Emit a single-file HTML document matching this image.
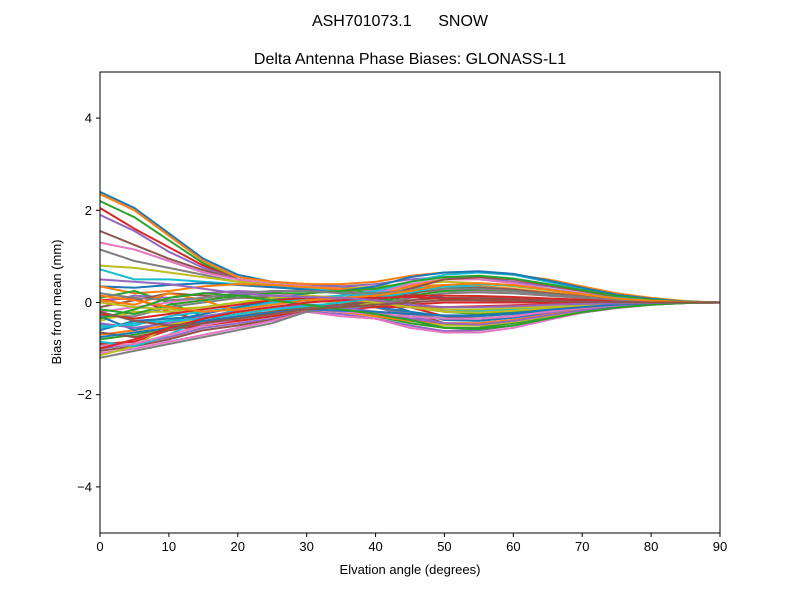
<!DOCTYPE html>
<html><head><meta charset="utf-8"><style>
body{margin:0;background:#fff;}
svg{display:block;font-family:"Liberation Sans","DejaVu Sans",sans-serif;}
text{white-space:pre;}
</style></head><body>
<svg id="chart" width="800" height="600" xmlns="http://www.w3.org/2000/svg">
<rect width="800" height="600" fill="#fff"/>
<text x="400" y="26" font-size="16" text-anchor="middle" xml:space="preserve">ASH701073.1      SNOW</text>
<text x="410" y="64" font-size="16" text-anchor="middle">Delta Antenna Phase Biases: GLONASS-L1</text>
<g id="lines"></g>
<g id="axes"></g>
<text x="410" y="574" font-size="13" text-anchor="middle">Elvation angle (degrees)</text>
<text transform="translate(61,302) rotate(-90)" font-size="13" text-anchor="middle">Bias from mean (mm)</text>
</svg>
<script>
const elevations=[0,5,10,15,20,25,30,35,40,45,50,55,60,65,70,75,80,85,90];
const xTicks=[0,10,20,30,40,50,60,70,80,90];
const yTicks=[-4,-2,0,2,4];
const s1=[2.4,2.05,1.5,0.95,0.6,0.45,0.4,0.35,0.3,0.2,0.1,0.05,0.05,0.05,0.05,0.05,0.03,0.01,0];
const s2=[2.35,2.0,1.45,0.9,0.55,0.45,0.4,0.4,0.45,0.58,0.65,0.65,0.6,0.5,0.35,0.2,0.1,0.03,0];
const s3=[2.2,1.85,1.35,0.85,0.5,0.4,0.35,0.3,0.2,0,-0.2,-0.25,-0.2,-0.15,-0.1,-0.05,-0.03,-0.01,0];
const s4=[2.05,1.6,1.2,0.8,0.5,0.35,0.3,0.25,0.15,-0.1,-0.3,-0.35,-0.3,-0.2,-0.12,-0.07,-0.03,-0.01,0];
const s5=[1.9,1.55,1.1,0.75,0.5,0.4,0.35,0.35,0.4,0.5,0.55,0.55,0.45,0.35,0.25,0.15,0.07,0.02,0];
const s6=[1.55,1.25,0.95,0.7,0.5,0.38,0.3,0.2,0.05,-0.2,-0.45,-0.5,-0.45,-0.3,-0.18,-0.1,-0.04,-0.01,0];
const s7=[1.3,1.15,0.9,0.65,0.5,0.4,0.35,0.3,0.25,0.25,0.25,0.25,0.2,0.15,0.1,0.06,0.03,0.01,0];
const s8=[1.15,0.9,0.75,0.6,0.45,0.35,0.3,0.25,0.1,-0.1,-0.2,-0.2,-0.15,-0.1,-0.06,-0.03,-0.02,0,0];
const s9=[0.8,0.75,0.65,0.55,0.45,0.38,0.32,0.3,0.35,0.4,0.45,0.42,0.35,0.27,0.18,0.1,0.05,0.01,0];
const s10=[0.72,0.5,0.5,0.45,0.4,0.35,0.3,0.22,0.1,-0.05,-0.15,-0.18,-0.15,-0.1,-0.06,-0.03,-0.01,0,0];
const s11=[0.35,0.32,0.38,0.42,0.38,0.33,0.28,0.2,0.05,-0.2,-0.38,-0.4,-0.33,-0.22,-0.13,-0.07,-0.03,-0.01,0];
const s12=[0.35,0.2,0.25,0.35,0.4,0.38,0.33,0.3,0.3,0.35,0.38,0.36,0.3,0.22,0.14,0.08,0.04,0.01,0];
const s13=[0.1,0.25,0.0,-0.3,-0.4,-0.3,-0.2,-0.1,0.0,0.15,0.25,0.28,0.25,0.2,0.13,0.07,0.03,0.01,0];
const s14=[0.05,0.1,-0.2,-0.4,-0.35,-0.25,-0.15,-0.1,-0.1,-0.1,-0.1,-0.08,-0.06,-0.04,-0.02,-0.01,0,0,0];
const s15=[0,0.15,0.1,0.2,0.25,0.22,0.15,0.05,-0.1,-0.3,-0.45,-0.45,-0.38,-0.25,-0.15,-0.08,-0.03,-0.01,0];
const s16=[-0.1,0.05,0.2,0.15,0.1,0.1,0.05,0.0,0.0,0.05,0.1,0.1,0.08,0.05,0.03,0.02,0.01,0,0];
const s17=[-0.2,-0.1,0.0,0.1,0.2,0.2,0.15,0.1,0.2,0.4,0.5,0.5,0.42,0.3,0.2,0.1,0.05,0.01,0];
const s18=[-0.3,-0.3,-0.1,0.0,0.1,0.15,0.1,0.0,-0.1,-0.25,-0.35,-0.35,-0.3,-0.2,-0.12,-0.06,-0.03,-0.01,0];
const s19=[-0.4,-0.2,-0.2,-0.1,0.0,0.05,0.05,0.0,-0.05,-0.1,-0.15,-0.15,-0.12,-0.08,-0.05,-0.02,-0.01,0,0];
const s20=[-0.5,-0.5,-0.3,-0.2,-0.1,0.0,0.05,0.1,0.2,0.3,0.35,0.33,0.28,0.2,0.12,0.06,0.03,0.01,0];
const s21=[-0.6,-0.4,-0.35,-0.3,-0.2,-0.1,-0.05,-0.05,-0.1,-0.2,-0.3,-0.3,-0.25,-0.17,-0.1,-0.05,-0.02,0,0];
const s22=[-0.7,-0.6,-0.5,-0.4,-0.3,-0.2,-0.1,0.0,0.15,0.35,0.5,0.55,0.5,0.38,0.25,0.13,0.06,0.02,0];
const s23=[-0.8,-0.7,-0.55,-0.45,-0.35,-0.25,-0.15,-0.2,-0.3,-0.45,-0.55,-0.55,-0.45,-0.32,-0.2,-0.1,-0.04,-0.01,0];
const s24=[-0.9,-0.85,-0.6,-0.5,-0.4,-0.3,-0.2,-0.15,-0.1,-0.05,0.0,0.0,0.0,0.0,0,0,0,0,0];
const s25=[-1.0,-0.9,-0.75,-0.55,-0.45,-0.35,-0.2,-0.25,-0.35,-0.5,-0.62,-0.6,-0.5,-0.35,-0.22,-0.12,-0.05,-0.01,0];
const s26=[-1.05,-0.95,-0.8,-0.6,-0.5,-0.38,-0.2,-0.1,0.05,0.3,0.5,0.55,0.5,0.38,0.25,0.13,0.06,0.02,0];
const s27=[-1.1,-1.0,-0.85,-0.7,-0.55,-0.4,-0.2,-0.3,-0.35,-0.55,-0.65,-0.65,-0.55,-0.38,-0.22,-0.12,-0.05,-0.01,0];
const s28=[-1.2,-1.05,-0.9,-0.75,-0.6,-0.45,-0.2,-0.15,-0.05,0.1,0.2,0.22,0.2,0.15,0.1,0.05,0.02,0,0];
const s29=[-1.15,-0.95,-0.5,-0.3,-0.2,-0.15,-0.1,-0.15,-0.25,-0.4,-0.5,-0.5,-0.42,-0.3,-0.18,-0.1,-0.04,-0.01,0];
const s30=[-0.85,-0.95,-0.7,-0.35,-0.15,0.0,0.1,0.15,0.25,0.45,0.6,0.65,0.6,0.45,0.3,0.16,0.07,0.02,0];
const s31=[-0.3,-0.6,-0.4,-0.25,-0.1,0.05,0.2,0.25,0.35,0.55,0.65,0.68,0.62,0.48,0.32,0.17,0.08,0.02,0];
const s32=[0.05,-0.05,0.2,0.05,-0.2,-0.25,-0.15,-0.2,-0.3,-0.4,-0.45,-0.45,-0.38,-0.27,-0.16,-0.08,-0.03,-0.01,0];
const s33=[-0.15,-0.25,-0.05,0.05,0.15,0.2,0.2,0.25,0.3,0.45,0.55,0.58,0.52,0.4,0.27,0.14,0.06,0.02,0];
const s34=[-0.25,-0.35,-0.25,-0.15,-0.05,0.05,0.1,0.1,0.1,0.15,0.15,0.14,0.12,0.09,0.06,0.03,0.01,0,0];
const s35=[-0.45,-0.55,-0.45,-0.3,-0.2,-0.1,-0.05,-0.1,-0.2,-0.35,-0.45,-0.48,-0.4,-0.28,-0.17,-0.09,-0.04,-0.01,0];
const s36=[-0.65,-0.75,-0.6,-0.45,-0.3,-0.2,-0.1,-0.05,0.05,0.2,0.3,0.32,0.28,0.2,0.13,0.07,0.03,0.01,0];
const s37=[-0.95,-0.9,-0.7,-0.5,-0.35,-0.25,-0.15,-0.2,-0.25,-0.3,-0.35,-0.35,-0.3,-0.2,-0.12,-0.06,-0.03,-0.01,0];
const s38=[0.2,0.1,0.05,0.1,0.2,0.25,0.25,0.2,0.2,0.25,0.3,0.3,0.25,0.18,0.12,0.06,0.03,0.01,0];
const s39=[0.0,-0.1,-0.15,-0.1,0.0,0.1,0.15,0.1,0.0,-0.1,-0.2,-0.22,-0.18,-0.12,-0.07,-0.04,-0.02,0,0];
const s40=[-0.55,-0.45,-0.4,-0.35,-0.25,-0.15,-0.08,0.0,0.1,0.22,0.35,0.4,0.37,0.28,0.18,0.1,0.04,0.01,0];
const s41=[-0.75,-0.65,-0.55,-0.4,-0.3,-0.22,-0.15,-0.18,-0.2,-0.25,-0.28,-0.28,-0.23,-0.16,-0.1,-0.05,-0.02,0,0];
const s42=[0.15,0.05,-0.1,-0.2,-0.15,-0.05,0.05,0.1,0.15,0.25,0.38,0.42,0.38,0.28,0.18,0.09,0.04,0.01,0];
const s43=[-0.35,-0.15,0.1,0.2,0.15,0.05,-0.05,-0.15,-0.25,-0.38,-0.55,-0.58,-0.5,-0.35,-0.21,-0.11,-0.05,-0.01,0];
const s44=[-1.0,-0.8,-0.55,-0.35,-0.2,-0.1,0.0,0.05,0.1,0.12,0.08,0.06,0.05,0.03,0.02,0.01,0,0,0];
const s45=[0.5,0.45,0.4,0.3,0.2,0.15,0.12,0.1,0.05,-0.05,-0.1,-0.1,-0.08,-0.05,-0.03,-0.02,-0.01,0,0];
const s46=[-0.2,-0.4,-0.5,-0.45,-0.35,-0.25,-0.15,-0.1,-0.05,0.0,0.05,0.05,0.04,0.03,0.02,0.01,0,0,0];
const seriesList=[s1,s2,s3,s4,s5,s6,s7,s8,s9,s10,s11,s12,s13,s14,s15,s16,s17,s18,s19,s20,s21,s22,s23,s24,s25,s26,s27,s28,s29,s30,s31,s32,s33,s34,s35,s36,s37,s38,s39,s40,s41,s42,s43,s44,s45,s46];

const NS="http://www.w3.org/2000/svg";
const L=100,R=720,T=72,B=533;
const xS=v=>L+(v-0)/(90-0)*(R-L);
const yS=v=>B-(v+5)/10*(B-T);
const colors=["#1f77b4","#ff7f0e","#2ca02c","#d62728","#9467bd","#8c564b","#e377c2","#7f7f7f","#bcbd22","#17becf"];
const lines=document.getElementById('lines');
const axes=document.getElementById('axes');
seriesList.forEach((s,i)=>{
  const p=document.createElementNS(NS,'polyline');
  p.setAttribute('points',s.map((v,j)=>xS(elevations[j]).toFixed(1)+','+yS(v).toFixed(1)).join(' '));
  p.setAttribute('fill','none');
  p.setAttribute('stroke',colors[i%10]);
  p.setAttribute('stroke-width','2');
  p.setAttribute('stroke-linejoin','round');
  
  
  lines.appendChild(p);
});
const frame=document.createElementNS(NS,'rect');
frame.setAttribute('x',L);frame.setAttribute('y',T);frame.setAttribute('width',R-L);frame.setAttribute('height',B-T);
frame.setAttribute('fill','none');frame.setAttribute('stroke','#000');frame.setAttribute('stroke-width','1');


axes.appendChild(frame);
xTicks.forEach(t=>{
  const x=xS(t);
  const ln=document.createElementNS(NS,'line');
  ln.setAttribute('x1',x);ln.setAttribute('x2',x);ln.setAttribute('y1',B);ln.setAttribute('y2',B+4);ln.setAttribute('stroke','#000');
  
  
  axes.appendChild(ln);
  const tx=document.createElementNS(NS,'text');
  tx.setAttribute('x',x);tx.setAttribute('y',B+18);tx.setAttribute('font-size','13');tx.setAttribute('text-anchor','middle');
  tx.textContent=t;
  
  
  axes.appendChild(tx);
});
yTicks.forEach(t=>{
  const y=yS(t);
  const ln=document.createElementNS(NS,'line');
  ln.setAttribute('x1',L-4);ln.setAttribute('x2',L);ln.setAttribute('y1',y);ln.setAttribute('y2',y);ln.setAttribute('stroke','#000');
  
  
  axes.appendChild(ln);
  const tx=document.createElementNS(NS,'text');
  tx.setAttribute('x',L-8);tx.setAttribute('y',y+4.5);tx.setAttribute('font-size','13');tx.setAttribute('text-anchor','end');
  tx.textContent=(t<0?'\u2212'+Math.abs(t):''+t);
  
  
  axes.appendChild(tx);
});
</script>
</body></html>
